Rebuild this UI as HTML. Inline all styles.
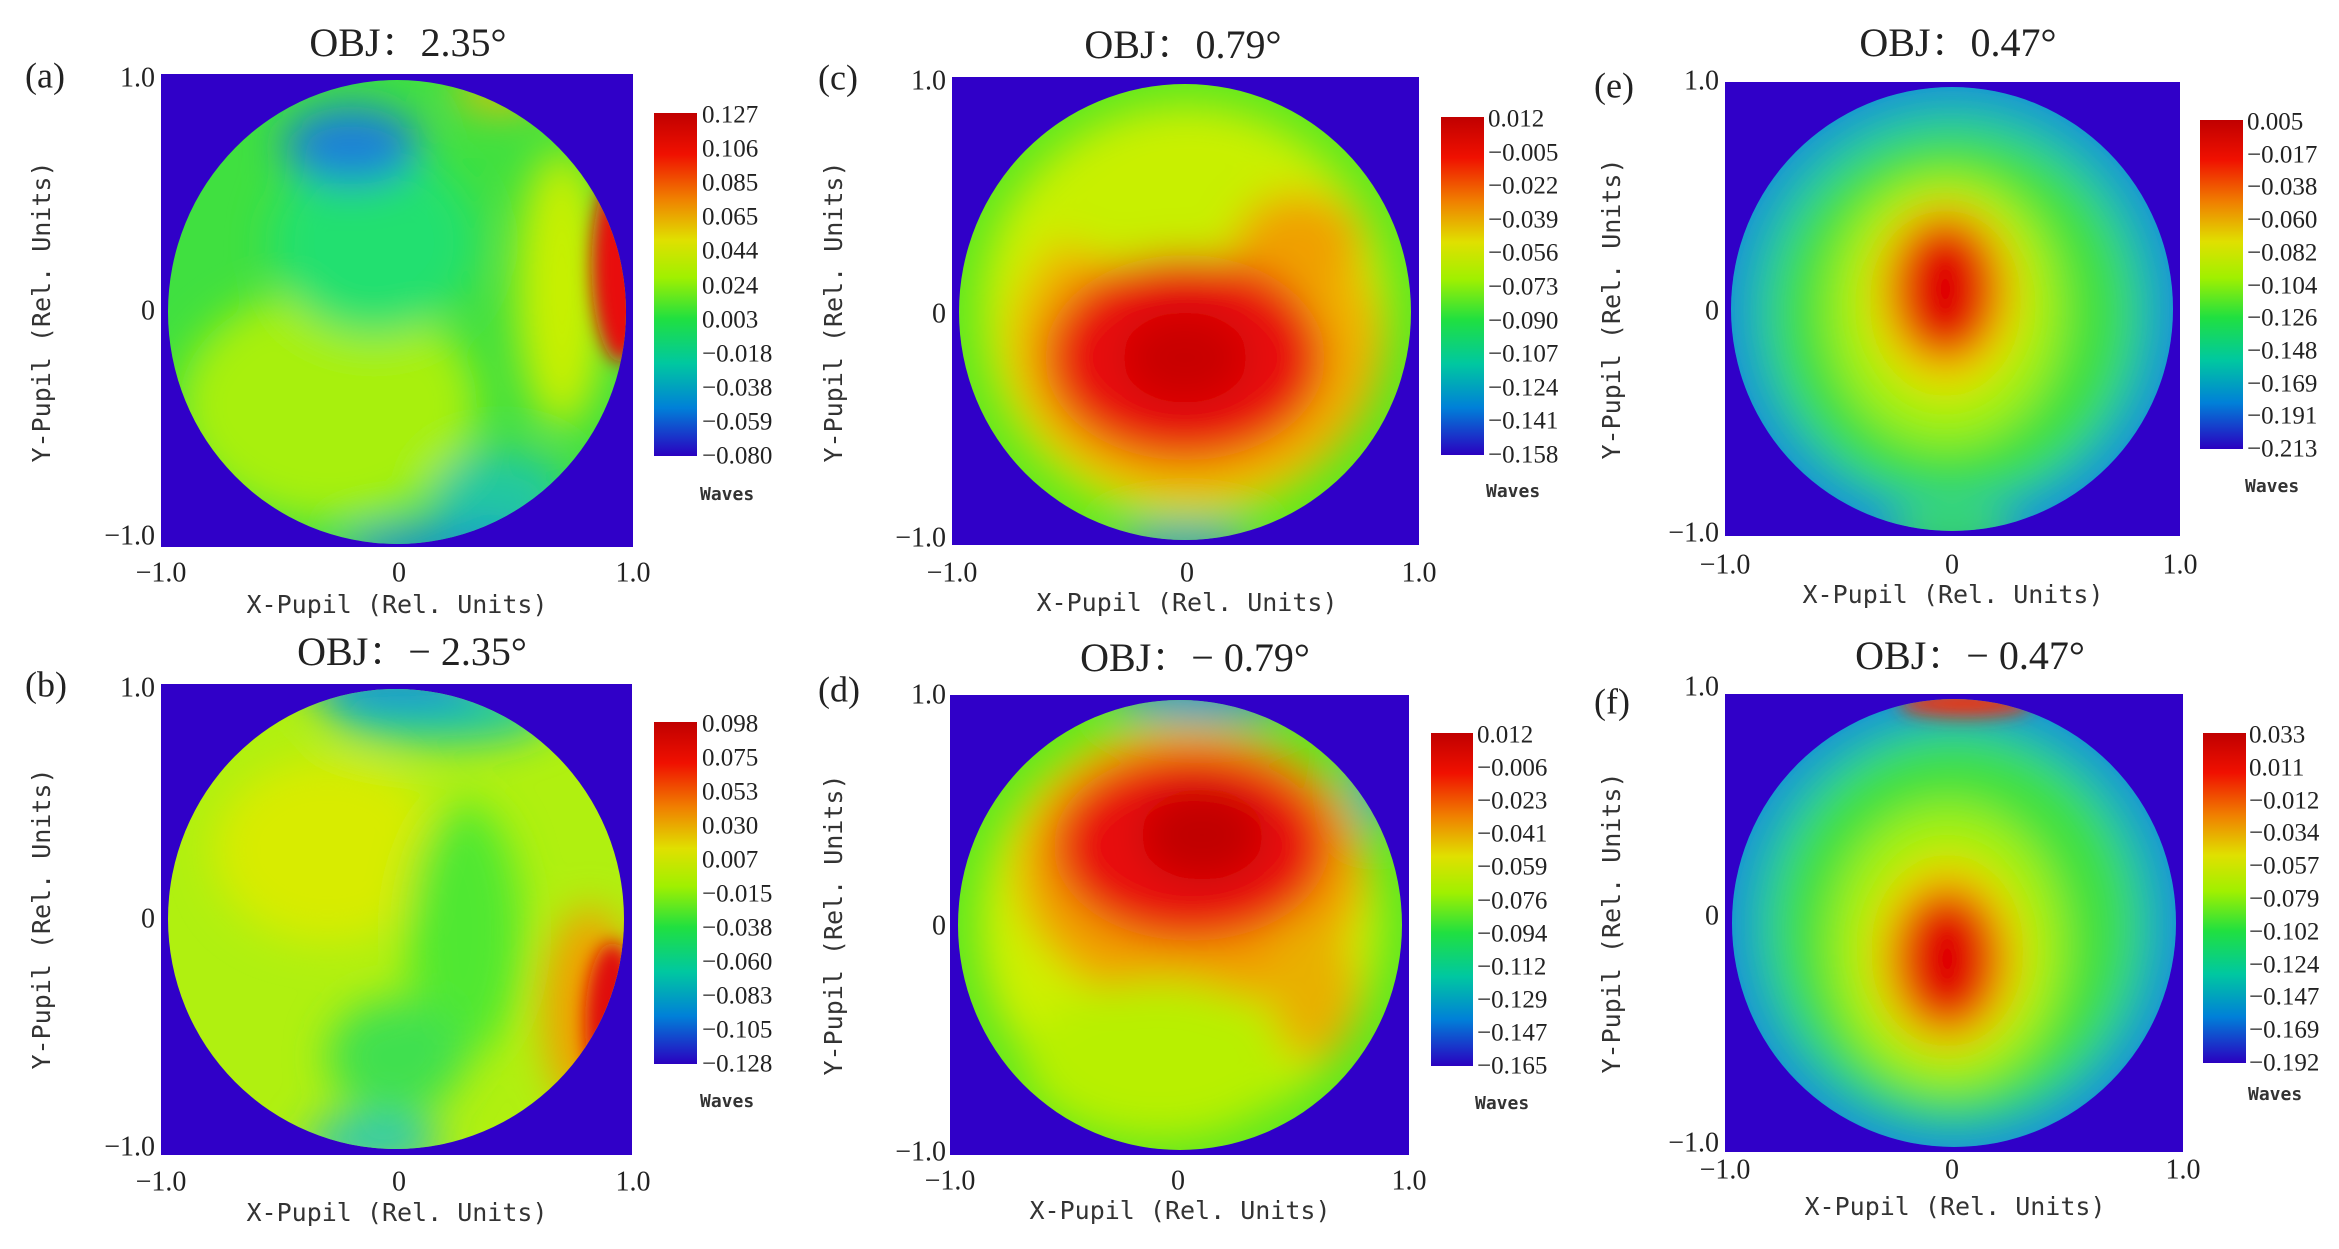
<!DOCTYPE html>
<html><head><meta charset="utf-8"><style>
html,body{margin:0;padding:0;background:#fff;overflow:hidden;}
svg{display:block;}
.t{font-family:"Liberation Serif","Noto Serif CJK SC",serif;fill:#222;}
.m{font-family:"DejaVu Sans Mono","Liberation Mono",monospace;fill:#333;}
</style></head><body>
<svg width="2339" height="1249" viewBox="0 0 2339 1249" xmlns="http://www.w3.org/2000/svg">
<defs>
<linearGradient id="jet" x1="0" y1="0" x2="0" y2="1">
<stop offset="0" stop-color="#c00000"/>
<stop offset="0.12" stop-color="#f01000"/>
<stop offset="0.25" stop-color="#f08000"/>
<stop offset="0.37" stop-color="#e0e000"/>
<stop offset="0.48" stop-color="#a0f000"/>
<stop offset="0.6" stop-color="#20e040"/>
<stop offset="0.73" stop-color="#00c8a0"/>
<stop offset="0.86" stop-color="#0080d8"/>
<stop offset="1" stop-color="#2a00c0"/>
</linearGradient>
<filter id="bl" filterUnits="userSpaceOnUse" x="-2" y="-2" width="4" height="4"><feGaussianBlur stdDeviation="0.09"/></filter>
<filter id="bs" filterUnits="userSpaceOnUse" x="-2" y="-2" width="4" height="4"><feGaussianBlur stdDeviation="0.04"/></filter>
<clipPath id="cl"><ellipse cx="0" cy="0" rx="1" ry="1"/></clipPath>
</defs>

<rect x="161" y="74" width="472" height="473" fill="#3000c8"/>
<rect x="161" y="684" width="471" height="471" fill="#3000c8"/>
<rect x="952" y="77" width="467" height="468" fill="#3000c8"/>
<rect x="950" y="695" width="459" height="460" fill="#3000c8"/>
<rect x="1725" y="82" width="455" height="454" fill="#3000c8"/>
<rect x="1725" y="694" width="458" height="458" fill="#3000c8"/>

<!-- (a) -->
<g transform="translate(397,312) scale(229,232)"><g clip-path="url(#cl)">
<rect x="-1" y="-1" width="2" height="2" fill="#40e040"/>
<g filter="url(#bl)">
<ellipse cx="-0.3" cy="0.4" rx="0.65" ry="0.5" fill="#a8f010"/>
<ellipse cx="-0.1" cy="-0.3" rx="0.45" ry="0.4" fill="#20e070"/>
<ellipse cx="-0.2" cy="-0.72" rx="0.3" ry="0.17" fill="#1a80d8"/>
<ellipse cx="0.72" cy="-0.1" rx="0.2" ry="0.6" fill="#c8f000"/>
<ellipse cx="0.45" cy="0.8" rx="0.3" ry="0.2" fill="#20c8a0"/>
<ellipse cx="0.2" cy="1.02" rx="0.45" ry="0.1" fill="#1890d0"/>
<ellipse cx="0.45" cy="-0.95" rx="0.2" ry="0.08" fill="#e8c000"/>
</g>
<g filter="url(#bs)">
<ellipse cx="0.98" cy="-0.2" rx="0.13" ry="0.42" fill="#e81010"/>
</g>
</g></g>

<!-- (b) -->
<g transform="translate(396,919) scale(228,230)"><g clip-path="url(#cl)">
<rect x="-1" y="-1" width="2" height="2" fill="#b0f010"/>
<g filter="url(#bl)">
<ellipse cx="-0.3" cy="-0.3" rx="0.5" ry="0.4" fill="#d8ec00"/>
<ellipse cx="0.3" cy="0.05" rx="0.25" ry="0.55" fill="#50e830"/>
<ellipse cx="0" cy="0.6" rx="0.3" ry="0.25" fill="#40e050"/>
<ellipse cx="0.2" cy="-0.9" rx="0.5" ry="0.14" fill="#20c8a0"/>
<ellipse cx="0" cy="-1.02" rx="0.4" ry="0.1" fill="#1890d8"/>
<ellipse cx="-0.1" cy="0.97" rx="0.3" ry="0.12" fill="#30c8b0"/>
<ellipse cx="0.85" cy="0.4" rx="0.2" ry="0.45" fill="#f0a000"/>
</g>
<g filter="url(#bs)">
<ellipse cx="0.95" cy="0.45" rx="0.12" ry="0.35" fill="#e01010"/>
</g>
</g></g>

<!-- (c) -->
<g transform="translate(1185,312) scale(226,228)"><g clip-path="url(#cl)">
<rect x="-1" y="-1" width="2" height="2" fill="#60e820"/>
<g filter="url(#bl)">
<ellipse cx="0" cy="0" rx="0.9" ry="0.9" fill="#cef000"/>
<ellipse cx="0.05" cy="0.15" rx="0.82" ry="0.68" fill="#f0b000"/>
<ellipse cx="-0.1" cy="-0.5" rx="0.55" ry="0.3" fill="#c8f000"/>
<ellipse cx="0.5" cy="-0.3" rx="0.28" ry="0.22" fill="#f0a000"/>
<ellipse cx="0" cy="0.2" rx="0.62" ry="0.45" fill="#e81010"/>
<ellipse cx="0" cy="0.2" rx="0.28" ry="0.2" fill="#c80000"/>
<ellipse cx="0" cy="1.02" rx="0.3" ry="0.08" fill="#2090d0"/>
</g>
</g></g>

<!-- (d) -->
<g transform="translate(1180,925) scale(222,225)"><g clip-path="url(#cl)">
<rect x="-1" y="-1" width="2" height="2" fill="#60e820"/>
<g filter="url(#bl)">
<ellipse cx="0" cy="0" rx="0.9" ry="0.9" fill="#cef000"/>
<ellipse cx="0.05" cy="-0.25" rx="0.78" ry="0.62" fill="#f0a000"/>
<ellipse cx="-0.1" cy="0.6" rx="0.6" ry="0.35" fill="#b8f000"/>
<ellipse cx="0.6" cy="0.3" rx="0.2" ry="0.3" fill="#e8b000"/>
<ellipse cx="0.05" cy="-0.35" rx="0.62" ry="0.42" fill="#e81010"/>
<ellipse cx="0.1" cy="-0.4" rx="0.28" ry="0.2" fill="#c00000"/>
<ellipse cx="0.1" cy="-1.02" rx="0.4" ry="0.1" fill="#1890d8"/>
<ellipse cx="0.88" cy="-0.65" rx="0.1" ry="0.22" fill="#20b0c0"/>
</g>
</g></g>

<!-- (e) -->
<g transform="translate(1952,309) scale(221,222)"><g clip-path="url(#cl)">
<rect x="-1" y="-1" width="2" height="2" fill="#1890d8"/>
<g filter="url(#bl)">
<ellipse cx="0" cy="0" rx="0.95" ry="0.95" fill="#20c0b0"/>
<ellipse cx="0" cy="0.02" rx="0.8" ry="0.82" fill="#40e040"/>
<ellipse cx="-0.03" cy="0" rx="0.54" ry="0.62" fill="#a0f010"/>
<ellipse cx="-0.03" cy="-0.05" rx="0.36" ry="0.45" fill="#e8e000"/>
<ellipse cx="-0.03" cy="-0.09" rx="0.26" ry="0.34" fill="#f05000"/>
<ellipse cx="-0.03" cy="-0.09" rx="0.2" ry="0.28" fill="#e00000"/>
<ellipse cx="0" cy="1" rx="0.3" ry="0.08" fill="#40e040"/>
</g>
</g></g>

<!-- (f) -->
<g transform="translate(1954,923) scale(222,224)"><g clip-path="url(#cl)">
<rect x="-1" y="-1" width="2" height="2" fill="#1890d8"/>
<g filter="url(#bl)">
<ellipse cx="0" cy="0" rx="0.95" ry="0.95" fill="#20c0b0"/>
<ellipse cx="0" cy="0.02" rx="0.8" ry="0.84" fill="#40e040"/>
<ellipse cx="-0.03" cy="0.1" rx="0.54" ry="0.64" fill="#a0f010"/>
<ellipse cx="-0.03" cy="0.14" rx="0.36" ry="0.45" fill="#e8e000"/>
<ellipse cx="-0.03" cy="0.16" rx="0.26" ry="0.34" fill="#f05000"/>
<ellipse cx="-0.03" cy="0.16" rx="0.2" ry="0.28" fill="#e00000"/>
</g>
<g filter="url(#bs)">
<ellipse cx="0.05" cy="-0.98" rx="0.3" ry="0.06" fill="#f03010"/>
</g>
</g></g>

<rect x="654" y="113" width="43" height="343" fill="url(#jet)"/>
<rect x="654" y="722" width="43" height="342" fill="url(#jet)"/>
<rect x="1441" y="117" width="43" height="338" fill="url(#jet)"/>
<rect x="1431" y="733" width="42" height="333" fill="url(#jet)"/>
<rect x="2200" y="120" width="43" height="329" fill="url(#jet)"/>
<rect x="2203" y="733" width="43" height="330" fill="url(#jet)"/>

<g class="t" font-size="25" dominant-baseline="middle">
<g transform="translate(702,0)">
<text y="117">0.127</text><text y="151">0.106</text><text y="185">0.085</text><text y="219">0.065</text><text y="253">0.044</text><text y="288">0.024</text><text y="322">0.003</text><text y="356">−0.018</text><text y="390">−0.038</text><text y="424">−0.059</text><text y="458">−0.080</text>
</g>
<g transform="translate(702,0)">
<text y="726">0.098</text><text y="760">0.075</text><text y="794">0.053</text><text y="828">0.030</text><text y="862">0.007</text><text y="896">−0.015</text><text y="930">−0.038</text><text y="964">−0.060</text><text y="998">−0.083</text><text y="1032">−0.105</text><text y="1066">−0.128</text>
</g>
<g transform="translate(1488,0)">
<text y="121">0.012</text><text y="155">−0.005</text><text y="188">−0.022</text><text y="222">−0.039</text><text y="255">−0.056</text><text y="289">−0.073</text><text y="323">−0.090</text><text y="356">−0.107</text><text y="390">−0.124</text><text y="423">−0.141</text><text y="457">−0.158</text>
</g>
<g transform="translate(1477,0)">
<text y="737">0.012</text><text y="770">−0.006</text><text y="803">−0.023</text><text y="836">−0.041</text><text y="869">−0.059</text><text y="903">−0.076</text><text y="936">−0.094</text><text y="969">−0.112</text><text y="1002">−0.129</text><text y="1035">−0.147</text><text y="1068">−0.165</text>
</g>
<g transform="translate(2247,0)">
<text y="124">0.005</text><text y="157">−0.017</text><text y="189">−0.038</text><text y="222">−0.060</text><text y="255">−0.082</text><text y="288">−0.104</text><text y="320">−0.126</text><text y="353">−0.148</text><text y="386">−0.169</text><text y="418">−0.191</text><text y="451">−0.213</text>
</g>
<g transform="translate(2249,0)">
<text y="737">0.033</text><text y="770">0.011</text><text y="803">−0.012</text><text y="835">−0.034</text><text y="868">−0.057</text><text y="901">−0.079</text><text y="934">−0.102</text><text y="967">−0.124</text><text y="999">−0.147</text><text y="1032">−0.169</text><text y="1065">−0.192</text>
</g>
</g>

<g class="m" font-size="18" font-weight="bold" dominant-baseline="middle">
<text x="700" y="495">Waves</text>
<text x="700" y="1102">Waves</text>
<text x="1486" y="492">Waves</text>
<text x="1475" y="1104">Waves</text>
<text x="2245" y="487">Waves</text>
<text x="2248" y="1095">Waves</text>
</g>

<g class="t" font-size="40" text-anchor="middle" dominant-baseline="middle">
<text x="408" y="47">OBJ：2.35°</text>
<text x="412" y="656">OBJ：− 2.35°</text>
<text x="1183" y="49">OBJ：0.79°</text>
<text x="1195" y="662">OBJ：− 0.79°</text>
<text x="1958" y="47">OBJ：0.47°</text>
<text x="1970" y="660">OBJ：− 0.47°</text>
</g>

<g class="t" font-size="36" dominant-baseline="middle">
<text x="25" y="79">(a)</text>
<text x="25" y="688">(b)</text>
<text x="818" y="81">(c)</text>
<text x="818" y="693">(d)</text>
<text x="1594" y="89">(e)</text>
<text x="1594" y="705">(f)</text>
</g>

<g class="t" font-size="28" dominant-baseline="middle">
<g text-anchor="end">
<text x="155" y="80">1.0</text><text x="155" y="313">0</text><text x="155" y="538">−1.0</text>
<text x="155" y="690">1.0</text><text x="155" y="921">0</text><text x="155" y="1149">−1.0</text>
<text x="946" y="83">1.0</text><text x="946" y="316">0</text><text x="946" y="540">−1.0</text>
<text x="946" y="697">1.0</text><text x="946" y="928">0</text><text x="946" y="1154">−1.0</text>
<text x="1719" y="83">1.0</text><text x="1719" y="313">0</text><text x="1719" y="535">−1.0</text>
<text x="1719" y="689">1.0</text><text x="1719" y="918">0</text><text x="1719" y="1145">−1.0</text>
</g>
<g text-anchor="middle">
<text x="161" y="575">−1.0</text><text x="399" y="575">0</text><text x="633" y="575">1.0</text>
<text x="161" y="1184">−1.0</text><text x="399" y="1184">0</text><text x="633" y="1184">1.0</text>
<text x="952" y="575">−1.0</text><text x="1187" y="575">0</text><text x="1419" y="575">1.0</text>
<text x="950" y="1183">−1.0</text><text x="1178" y="1183">0</text><text x="1409" y="1183">1.0</text>
<text x="1725" y="567">−1.0</text><text x="1952" y="567">0</text><text x="2180" y="567">1.0</text>
<text x="1725" y="1172">−1.0</text><text x="1952" y="1172">0</text><text x="2183" y="1172">1.0</text>
</g>
</g>

<g class="m" font-size="25" text-anchor="middle" dominant-baseline="middle">
<text x="397" y="606">X-Pupil (Rel. Units)</text>
<text x="397" y="1214">X-Pupil (Rel. Units)</text>
<text x="1187" y="604">X-Pupil (Rel. Units)</text>
<text x="1180" y="1212">X-Pupil (Rel. Units)</text>
<text x="1953" y="596">X-Pupil (Rel. Units)</text>
<text x="1955" y="1208">X-Pupil (Rel. Units)</text>
<text transform="translate(43,312) rotate(-90)">Y-Pupil (Rel. Units)</text>
<text transform="translate(43,919) rotate(-90)">Y-Pupil (Rel. Units)</text>
<text transform="translate(835,312) rotate(-90)">Y-Pupil (Rel. Units)</text>
<text transform="translate(835,925) rotate(-90)">Y-Pupil (Rel. Units)</text>
<text transform="translate(1613,309) rotate(-90)">Y-Pupil (Rel. Units)</text>
<text transform="translate(1613,923) rotate(-90)">Y-Pupil (Rel. Units)</text>
</g>
</svg>
</body></html>
